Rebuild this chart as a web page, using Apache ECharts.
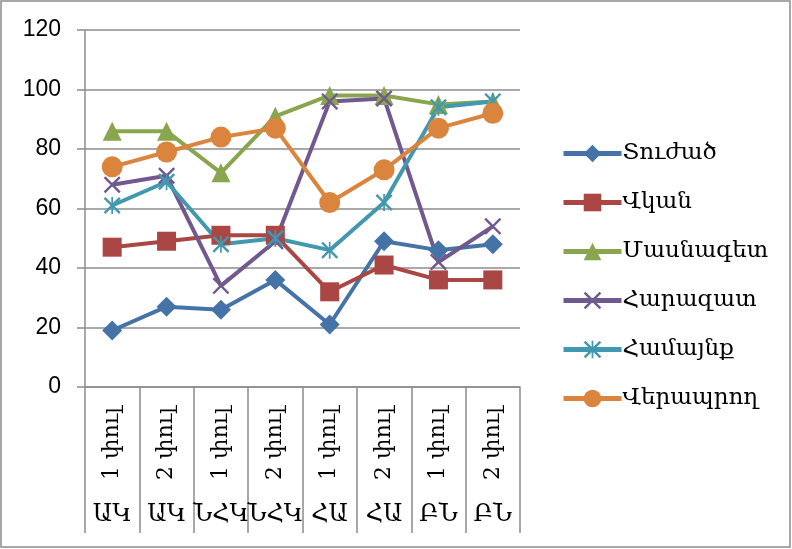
<!DOCTYPE html>
<html>
<head>
<meta charset="utf-8">
<script src="https://cdn.jsdelivr.net/npm/echarts@6/dist/echarts.min.js"></script>
<style>html,body{margin:0;padding:0;background:#fff;}#c{width:792px;height:549px;}</style>
</head>
<body>
<div id="c"></div>
<script>
const stages = ['1 փուլ','2 փուլ','1 փուլ','2 փուլ','1 փուլ','2 փուլ','1 փուլ','2 փուլ'];
const groups = ['ԱԿ','ԱԿ','ՆՀԿ','ՆՀԿ','ՀԱ','ՀԱ','ԲՆ','ԲՆ'];
const seriesNames = ['Տուժած','Վկան','Մասնագետ','Հարազատ','Համայնք','Վերապրող'];
const tuzhac   = [19, 27, 26, 36, 21, 49, 46, 48];
const vkan     = [47, 49, 51, 51, 32, 41, 36, 36];
const masnaget = [86, 86, 72, 91, 98, 98, 95, 96];
const harazat  = [68, 71, 34, 49, 96, 97, 42, 54];
const hamaynq  = [61, 69, 48, 50, 46, 62, 94, 96];
const veraprogh= [74, 79, 84, 87, 62, 73, 87, 92];
const yTicks = [0, 20, 40, 60, 80, 100, 120];

const values = [tuzhac, vkan, masnaget, harazat, hamaynq, veraprogh];
const colors = ['#4572A7','#AA4643','#89A54E','#71588F','#4198AF','#DB843D'];
const xPath = 'path://M0,1 L1,0 L10,9 L9,10 Z M9,0 L10,1 L1,10 L0,9 Z';
const starPath = 'path://M0,1 L1,0 L10,9 L9,10 Z M9,0 L10,1 L1,10 L0,9 Z M4.5,0 L5.5,0 L5.5,10 L4.5,10 Z';
const symbols = ['diamond','rect','triangle', xPath, starPath, 'circle'];
const sizes = [20, 19, 19, 17, 17, 21];

const armFont = 'DejaVu Serif';
const chart = echarts.init(document.getElementById('c'));
chart.setOption({
  animation: false,
  backgroundColor: '#fff',
  graphic: [{type:'rect', shape:{x:1,y:1,width:789,height:546}, style:{fill:'none', stroke:'#8c8c8c', lineWidth:1.5}, silent:true}],
  grid: {left: 85, right: 272, top: 30, bottom: 162},
  legend: {
    orient: 'vertical', left: 556, top: 137,
    itemWidth: 58, itemHeight: 22, itemGap: 26,
    lineStyle: {width: 5},
    textStyle: {fontFamily: armFont, fontSize: 23, color: '#000', padding: [0,0,0,-4]},
    data: seriesNames
  },
  xAxis: [{
    type: 'category', data: stages, boundaryGap: true,
    axisLine: {show: true, lineStyle: {color: '#8c8c8c', width: 1.5}},
    axisTick: {show: true, interval: 0, length: 146, lineStyle: {color: '#8c8c8c', width: 1.5}},
    axisLabel: {interval: 0, rotate: 90, margin: 20, fontFamily: armFont, fontSize: 22, color: '#000'}
  },{
    type: 'category', data: groups, boundaryGap: true, position: 'bottom',
    axisLine: {show: false}, axisTick: {show: false},
    axisLabel: {interval: 0, margin: 116, fontFamily: armFont, fontSize: 24, color: '#000'}
  }],
  yAxis: {
    type: 'value', min: yTicks[0], max: yTicks[yTicks.length-1], interval: 20,
    axisLine: {show: true, lineStyle: {color: '#8c8c8c', width: 1.5}},
    axisTick: {show: true, length: 8, lineStyle: {color: '#8c8c8c', width: 1.5}},
    axisLabel: {margin: 24, fontFamily: 'Liberation Sans', fontSize: 23, color: '#000'},
    splitLine: {show: true, lineStyle: {color: '#8c8c8c', width: 1.5}}
  },
  series: seriesNames.map((n, i) => ({
    name: n, type: 'line', data: values[i], xAxisIndex: 0,
    symbol: symbols[i], symbolSize: sizes[i],
    lineStyle: {color: colors[i], width: 4},
    itemStyle: {color: colors[i], borderWidth: 0},
    emphasis: {disabled: true}
  }))
});
</script>
</body>
</html>
